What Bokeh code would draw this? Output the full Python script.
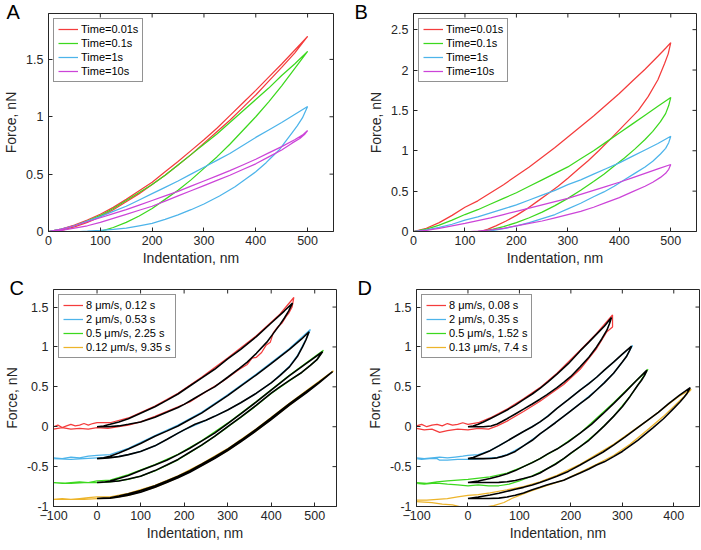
from bokeh.plotting import figure
from bokeh.models import Range1d, FixedTicker, Legend, LegendItem
from bokeh.layouts import column, row
from bokeh.embed import file_html
from bokeh.resources import INLINE

# ---------------- colours ----------------
RED = "#F43C3C"
GREEN = "#3CD81E"
BLUE = "#4DB4EA"
MAGENTA = "#CC44D8"
ORANGE = "#EDB42A"
AX = "#262626"

# ---------------- panel A ----------------
a_labels = ["Time=0.01s", "Time=0.1s", "Time=1s", "Time=10s"]
a_red_x = [0, 25, 50, 75, 100, 125, 150, 175, 200, 225, 250, 275, 300, 325, 350, 375, 400, 425, 450, 475, 500,
           475, 450, 425, 400, 375, 350, 325, 300, 275, 250, 225, 200, 175, 150, 125, 100, 75, 50, 25, 10]
a_red_y = [0, 0.02, 0.055, 0.10, 0.15, 0.21, 0.28, 0.355, 0.43, 0.52, 0.61, 0.705, 0.80, 0.90, 1.01, 1.12, 1.23, 1.345, 1.46, 1.58, 1.70,
           1.555, 1.43, 1.31, 1.19, 1.08, 0.97, 0.87, 0.77, 0.67, 0.58, 0.49, 0.41, 0.33, 0.26, 0.19, 0.13, 0.08, 0.04, 0.01, 0.0]
a_green_x = [0, 25, 50, 75, 100, 125, 150, 175, 200, 225, 250, 275, 300, 325, 350, 375, 400, 425, 450, 475, 500,
             475, 450, 425, 400, 375, 350, 325, 300, 275, 250, 225, 200, 175, 150, 125, 110, 100]
a_green_y = [0, 0.02, 0.05, 0.09, 0.14, 0.20, 0.27, 0.34, 0.41, 0.49, 0.58, 0.67, 0.76, 0.85, 0.95, 1.05, 1.15, 1.25, 1.36, 1.46, 1.57,
             1.42, 1.27, 1.13, 1.00, 0.88, 0.76, 0.65, 0.55, 0.45, 0.36, 0.28, 0.20, 0.135, 0.08, 0.035, 0.015, 0.0]
a_blue_x = [0, 25, 50, 75, 100, 125, 150, 175, 200, 225, 250, 275, 300, 325, 350, 375, 400, 425, 450, 475, 500,
            490, 480, 470, 455, 445, 430, 420, 400, 380, 360, 330, 300, 275, 250, 225, 200, 175, 150, 125, 100, 75, 60]
a_blue_y = [0, 0.02, 0.05, 0.09, 0.13, 0.175, 0.22, 0.275, 0.33, 0.385, 0.44, 0.50, 0.56, 0.62, 0.68, 0.75, 0.82, 0.885, 0.95, 1.02, 1.09,
            0.99, 0.92, 0.86, 0.77, 0.71, 0.645, 0.60, 0.52, 0.455, 0.39, 0.31, 0.24, 0.19, 0.145, 0.105, 0.07, 0.05, 0.03, 0.018, 0.01, 0.003, 0.0]
a_mag_x = [0, 25, 50, 75, 100, 125, 150, 175, 200, 225, 250, 275, 300, 325, 350, 375, 400, 425, 450, 475, 490, 500,
           495, 485, 470, 450, 425, 400, 375, 350, 325, 300, 275, 250, 225, 200, 175, 150, 125, 100, 75, 50, 25, 0]
a_mag_y = [0, 0.02, 0.05, 0.085, 0.12, 0.155, 0.19, 0.23, 0.27, 0.31, 0.35, 0.395, 0.44, 0.485, 0.53, 0.58, 0.63, 0.685, 0.74, 0.80, 0.84, 0.88,
           0.85, 0.81, 0.77, 0.71, 0.65, 0.59, 0.54, 0.49, 0.445, 0.40, 0.355, 0.31, 0.265, 0.22, 0.185, 0.15, 0.115, 0.08, 0.05, 0.03, 0.01, 0]

# ---------------- panel B ----------------
b_red_x = [0, 25, 50, 75, 100, 125, 150, 175, 200, 225, 250, 275, 300, 325, 350, 375, 400, 425, 450, 475, 490, 500,
           495, 488, 475, 456, 437, 411, 385, 360, 340, 320, 300, 281, 260, 240, 220, 200, 180, 160, 145, 130]
b_red_y = [0, 0.04, 0.11, 0.20, 0.30, 0.38, 0.48, 0.58, 0.69, 0.80, 0.92, 1.04, 1.17, 1.30, 1.43, 1.57, 1.71, 1.86, 2.01, 2.17, 2.27, 2.34,
           2.20, 2.08, 1.88, 1.67, 1.50, 1.33, 1.16, 1.00, 0.88, 0.77, 0.66, 0.56, 0.46, 0.37, 0.28, 0.20, 0.13, 0.07, 0.03, 0]
b_green_x = [0, 25, 50, 75, 100, 125, 150, 175, 200, 225, 250, 275, 300, 325, 350, 375, 400, 425, 450, 475, 500,
             496, 490, 480, 465, 450, 430, 410, 390, 370, 350, 325, 300, 275, 250, 225, 200, 175, 155, 135, 125]
b_green_y = [0, 0.03, 0.08, 0.14, 0.21, 0.27, 0.34, 0.41, 0.48, 0.56, 0.64, 0.72, 0.80, 0.90, 1.00, 1.11, 1.22, 1.33, 1.44, 1.55, 1.66,
             1.56, 1.46, 1.36, 1.24, 1.14, 1.02, 0.91, 0.81, 0.71, 0.62, 0.51, 0.41, 0.32, 0.24, 0.17, 0.11, 0.06, 0.03, 0.005, 0]
b_blue_x = [0, 25, 50, 75, 100, 125, 150, 175, 200, 225, 250, 275, 300, 325, 350, 375, 400, 425, 450, 475, 500,
            496, 490, 480, 465, 450, 430, 410, 390, 370, 350, 325, 300, 275, 250, 225, 200, 175, 155, 140]
b_blue_y = [0, 0.02, 0.05, 0.09, 0.14, 0.18, 0.23, 0.28, 0.33, 0.39, 0.45, 0.51, 0.58, 0.64, 0.71, 0.78, 0.85, 0.93, 1.01, 1.09, 1.18,
            1.10, 1.03, 0.96, 0.87, 0.80, 0.72, 0.64, 0.56, 0.49, 0.43, 0.35, 0.28, 0.21, 0.16, 0.11, 0.07, 0.035, 0.015, 0]
b_mag_x = [0, 25, 50, 75, 100, 125, 150, 175, 200, 225, 250, 275, 300, 325, 350, 375, 400, 425, 450, 475, 500,
           496, 490, 480, 465, 450, 425, 400, 375, 350, 325, 300, 275, 250, 225, 200, 175, 150, 125, 110]
b_mag_y = [0, 0.015, 0.04, 0.07, 0.10, 0.135, 0.17, 0.21, 0.25, 0.29, 0.33, 0.37, 0.41, 0.46, 0.51, 0.56, 0.61, 0.665, 0.72, 0.775, 0.83,
           0.77, 0.72, 0.67, 0.61, 0.56, 0.49, 0.42, 0.36, 0.30, 0.25, 0.21, 0.17, 0.13, 0.10, 0.07, 0.04, 0.02, 0.005, 0]

# ---------------- panel C ----------------
c_labels = ["8 \u03bcm/s, 0.12 s", "2 \u03bcm/s, 0.53 s", "0.5 \u03bcm/s, 2.25 s", "0.12 \u03bcm/s, 9.35 s"]
c_red_x = [-100, -90, -80, -70, -60, -50, -40, -30, -20, -10, 0, 30, 72, 133, 186, 240, 300, 366, 420, 452,
           448, 440, 434, 425, 415, 405, 398, 388, 378, 366, 356, 345, 327, 289, 250, 213, 186, 133, 100, 72, 50, 25, 0, -20, -40, -60, -80, -100]
c_red_y = [0.00, 0.02, -0.01, 0.01, 0.03, 0.01, 0.02, 0.04, 0.02, 0.04, 0.05, 0.05, 0.11, 0.26, 0.42, 0.62, 0.86, 1.14, 1.41, 1.62,
           1.50, 1.42, 1.38, 1.30, 1.25, 1.18, 1.06, 1.02, 0.93, 0.87, 0.86, 0.78, 0.72, 0.57, 0.44, 0.31, 0.25, 0.13, 0.06, 0.02, 0.0, -0.02, -0.01, -0.03, -0.02, -0.03, -0.01, -0.03]
c_red_fit_x = [0, 15, 30, 50, 72, 100, 133, 160, 186, 213, 240, 270, 300, 330, 366, 400, 430, 449,
               440, 430, 420, 405, 390, 366, 345, 327, 300, 270, 250, 225, 200, 186, 160, 133, 100, 72, 50, 25, 0]
c_red_fit_y = [0, 0.01, 0.03, 0.06, 0.10, 0.17, 0.25, 0.33, 0.41, 0.51, 0.61, 0.72, 0.85, 0.97, 1.13, 1.30, 1.45, 1.55,
               1.45, 1.36, 1.28, 1.17, 1.06, 0.92, 0.81, 0.73, 0.62, 0.50, 0.44, 0.36, 0.28, 0.24, 0.18, 0.12, 0.06, 0.03, 0.01, 0, 0]
c_blue_x = [-100, -80, -60, -40, -20, 0, 30, 72, 133, 186, 240, 300, 366, 442, 490,
            480, 460, 442, 400, 366, 330, 300, 250, 200, 160, 133, 100, 72, 40, 0, -30, -60, -100]
c_blue_y = [-0.39, -0.40, -0.38, -0.39, -0.37, -0.36, -0.35, -0.27, -0.11, 0.02, 0.18, 0.40, 0.66, 0.98, 1.22,
            1.10, 0.89, 0.76, 0.55, 0.42, 0.30, 0.21, 0.08, -0.04, -0.16, -0.24, -0.31, -0.35, -0.38, -0.39, -0.40, -0.41, -0.40]
c_blue_fit_x = [0, 15, 30, 50, 72, 100, 133, 160, 186, 213, 240, 270, 300, 330, 366, 400, 442, 470, 487,
                480, 472, 460, 442, 420, 400, 366, 330, 300, 270, 250, 225, 200, 186, 160, 133, 100, 72, 50, 26, 0]
c_blue_fit_y = [-0.40, -0.39, -0.37, -0.33, -0.28, -0.21, -0.12, -0.055, 0.01, 0.09, 0.17, 0.28, 0.39, 0.51, 0.65, 0.79, 0.97, 1.10, 1.19,
                1.09, 1.00, 0.88, 0.75, 0.64, 0.55, 0.42, 0.30, 0.21, 0.13, 0.08, 0.03, -0.04, -0.08, -0.16, -0.24, -0.31, -0.35, -0.375, -0.39, -0.40]
c_green_x = [-100, -80, -60, -40, -20, 0, 30, 72, 133, 186, 240, 300, 366, 442, 480, 520,
             505, 470, 442, 400, 366, 330, 300, 240, 186, 133, 100, 72, 30, 0, -30, -60, -100]
c_green_y = [-0.70, -0.71, -0.70, -0.69, -0.70, -0.68, -0.67, -0.60, -0.475, -0.345, -0.175, 0.045, 0.315, 0.645, 0.80, 0.96,
             0.84, 0.68, 0.575, 0.415, 0.265, 0.115, -0.005, -0.235, -0.415, -0.555, -0.62, -0.66, -0.69, -0.70, -0.70, -0.71, -0.70]
c_green_fit_x = [0, 15, 30, 50, 72, 100, 133, 160, 186, 213, 240, 270, 300, 330, 366, 400, 442, 480, 518,
                 505, 490, 470, 442, 420, 400, 366, 330, 300, 270, 240, 213, 186, 160, 133, 100, 72, 50, 30, 0]
c_green_fit_y = [-0.70, -0.695, -0.68, -0.65, -0.61, -0.55, -0.48, -0.42, -0.35, -0.27, -0.18, -0.08, 0.04, 0.16, 0.31, 0.46, 0.64, 0.79, 0.94,
                 0.84, 0.77, 0.68, 0.58, 0.50, 0.42, 0.27, 0.12, 0.0, -0.12, -0.23, -0.32, -0.41, -0.48, -0.55, -0.62, -0.655, -0.68, -0.69, -0.70]
c_orange_x = [-100, -80, -60, -40, -20, 0, 30, 72, 133, 186, 240, 300, 366, 442, 500, 543,
              500, 442, 366, 300, 240, 186, 133, 72, 30, 0, -30, -60, -100]
c_orange_y = [-0.91, -0.90, -0.91, -0.90, -0.89, -0.88, -0.88, -0.835, -0.735, -0.615, -0.465, -0.275, -0.025, 0.295, 0.53, 0.70,
              0.51, 0.27, -0.05, -0.30, -0.49, -0.64, -0.76, -0.86, -0.895, -0.90, -0.91, -0.91, -0.91]
c_orange_fit_x = [0, 15, 30, 50, 72, 100, 133, 160, 186, 213, 240, 270, 300, 330, 366, 400, 442, 480, 510, 541,
                  510, 480, 442, 400, 366, 330, 300, 270, 240, 213, 186, 160, 133, 100, 72, 50, 30, 0]
c_orange_fit_y = [-0.90, -0.895, -0.89, -0.87, -0.84, -0.80, -0.74, -0.68, -0.62, -0.55, -0.47, -0.38, -0.28, -0.17, -0.03, 0.11, 0.29, 0.44, 0.56, 0.69,
                  0.55, 0.42, 0.27, 0.09, -0.05, -0.19, -0.30, -0.40, -0.49, -0.57, -0.64, -0.70, -0.76, -0.82, -0.86, -0.88, -0.895, -0.90]

# ---------------- panel D ----------------
d_labels = ["8 \u03bcm/s, 0.08 s", "2 \u03bcm/s, 0.35 s", "0.5 \u03bcm/s, 1.52 s", "0.13 \u03bcm/s, 7.4 s"]
d_red_x = [-100, -90, -80, -70, -60, -50, -40, -30, -20, -10, 0, 20, 43, 76, 108, 140, 173, 218, 250, 281,
           281, 270, 250, 218, 186, 153, 140, 108, 76, 57, 40, 20, 0, -20, -40, -55, -70, -85, -100]
d_red_y = [0.01, 0.03, 0.0, 0.02, 0.03, 0.01, 0.04, 0.02, 0.03, 0.05, 0.03, 0.05, 0.11, 0.22, 0.35, 0.49, 0.67, 0.96, 1.17, 1.40,
           1.25, 1.19, 0.98, 0.72, 0.53, 0.38, 0.32, 0.19, 0.07, 0.01, -0.03, -0.02, -0.04, -0.03, -0.05, -0.07, -0.03, -0.04, -0.02]
d_red_fit_x = [0, 10, 20, 30, 43, 60, 76, 92, 108, 125, 140, 155, 173, 195, 218, 235, 250, 265, 279,
               275, 270, 260, 250, 235, 218, 200, 186, 173, 153, 140, 125, 108, 92, 76, 66, 57, 45, 30, 0]
d_red_fit_y = [0, 0.01, 0.03, 0.06, 0.10, 0.155, 0.21, 0.27, 0.34, 0.41, 0.48, 0.56, 0.66, 0.79, 0.95, 1.06, 1.16, 1.26, 1.37,
               1.29, 1.21, 1.10, 1.00, 0.87, 0.75, 0.63, 0.555, 0.49, 0.40, 0.345, 0.285, 0.22, 0.16, 0.10, 0.065, 0.035, 0.01, 0, 0]
d_blue_x = [-100, -85, -70, -55, -40, -25, -10, 0, 20, 43, 76, 108, 140, 173, 218, 250, 283, 320,
            308, 283, 250, 218, 186, 153, 140, 108, 76, 57, 30, 0, -20, -40, -55, -60, -75, -90, -100]
d_blue_y = [-0.39, -0.40, -0.39, -0.38, -0.39, -0.38, -0.37, -0.36, -0.35, -0.30, -0.18, -0.06, 0.06, 0.23, 0.46, 0.62, 0.81, 1.02,
            0.88, 0.67, 0.46, 0.29, 0.13, -0.03, -0.09, -0.24, -0.35, -0.385, -0.40, -0.41, -0.41, -0.42, -0.42, -0.40, -0.40, -0.41, -0.40]
d_blue_fit_x = [0, 10, 20, 30, 43, 60, 76, 92, 108, 125, 140, 155, 173, 195, 218, 235, 250, 265, 283, 300, 318,
                313, 308, 300, 283, 265, 250, 235, 218, 200, 186, 170, 153, 140, 125, 108, 92, 76, 66, 57, 45, 30, 0]
d_blue_fit_y = [-0.40, -0.385, -0.36, -0.335, -0.30, -0.24, -0.18, -0.12, -0.06, 0.0, 0.06, 0.13, 0.23, 0.34, 0.46, 0.54, 0.62, 0.71, 0.81, 0.91, 1.01,
                0.94, 0.88, 0.81, 0.67, 0.55, 0.46, 0.37, 0.29, 0.20, 0.13, 0.05, -0.03, -0.09, -0.17, -0.24, -0.31, -0.355, -0.375, -0.39, -0.398, -0.40, -0.40]
d_green_x = [-100, -80, -60, -40, -20, 0, 43, 76, 108, 140, 173, 218, 283, 350,
             330, 315, 283, 250, 218, 186, 153, 120, 100, 80, 60, 40, 20, 0, -20, -40, -55, -70, -85, -100]
d_green_y = [-0.70, -0.71, -0.69, -0.68, -0.67, -0.66, -0.63, -0.58, -0.50, -0.40, -0.28, -0.08, 0.30, 0.72,
             0.52, 0.38, 0.13, -0.08, -0.25, -0.40, -0.53, -0.63, -0.68, -0.72, -0.74, -0.74, -0.73, -0.74, -0.73, -0.72, -0.71, -0.71, -0.72, -0.71]
d_green_fit_x = [0, 20, 43, 60, 76, 92, 108, 125, 140, 155, 173, 195, 218, 240, 262, 283, 305, 326, 348,
                 343, 337, 330, 315, 300, 283, 265, 250, 235, 218, 200, 186, 170, 153, 140, 125, 108, 92, 76, 60, 40, 0]
d_green_fit_y = [-0.70, -0.68, -0.65, -0.62, -0.59, -0.55, -0.50, -0.45, -0.40, -0.34, -0.28, -0.19, -0.08, 0.03, 0.16, 0.29, 0.43, 0.57, 0.71,
                 0.64, 0.58, 0.52, 0.38, 0.25, 0.13, 0.01, -0.08, -0.17, -0.25, -0.33, -0.40, -0.47, -0.53, -0.58, -0.62, -0.65, -0.675, -0.69, -0.697, -0.70, -0.70]
d_orange_x = [-100, -80, -60, -40, -20, 0, 20, 43, 76, 108, 140, 173, 218, 283, 347, 412, 434,
              430, 412, 380, 347, 315, 283, 250, 218, 186, 153, 120, 100, 85, 70, 50, 30, 10, -10, -30, -50, -70, -100]
d_orange_y = [-0.92, -0.92, -0.91, -0.90, -0.88, -0.86, -0.85, -0.83, -0.79, -0.75, -0.69, -0.61, -0.47, -0.22, 0.07, 0.39, 0.47,
              0.44, 0.33, 0.13, -0.05, -0.22, -0.36, -0.47, -0.57, -0.67, -0.74, -0.81, -0.86, -0.90, -0.95, -0.99, -1.01, -1.02, -1.01, -0.98, -0.97, -0.95, -0.94]
d_orange_fit_x = [0, 20, 43, 60, 76, 92, 108, 125, 140, 155, 173, 195, 218, 240, 262, 283, 305, 326, 347, 370, 390, 412, 432,
                  426, 420, 412, 400, 380, 360, 347, 330, 315, 300, 283, 265, 250, 235, 218, 200, 186, 170, 153, 140, 125, 108, 92, 76, 60, 40, 20, 0]
d_orange_fit_y = [-0.90, -0.88, -0.855, -0.835, -0.81, -0.785, -0.76, -0.73, -0.70, -0.665, -0.62, -0.56, -0.48, -0.40, -0.32, -0.23, -0.13, -0.03, 0.07, 0.18, 0.29, 0.40, 0.49,
                  0.42, 0.37, 0.31, 0.23, 0.10, -0.01, -0.08, -0.17, -0.24, -0.31, -0.375, -0.44, -0.48, -0.53, -0.58, -0.63, -0.67, -0.70, -0.73, -0.76, -0.79, -0.83, -0.86, -0.88, -0.895, -0.90, -0.90, -0.90]

# ---------------- axes ----------------
ab_xticks = [0, 100, 200, 300, 400, 500]
c_xticks = [-100, 0, 100, 200, 300, 400, 500]
d_xticks = [-100, 0, 100, 200, 300, 400]
a_yticks = [0, 0.5, 1, 1.5]
a_ytick_labels = ["0", "0.5", "1", "1.5"]
b_yticks = [0, 0.5, 1, 1.5, 2, 2.5]
b_ytick_labels = ["0", "0.5", "1", "1.5", "2", "2.5"]
cd_yticks = [-1, -0.5, 0, 0.5, 1, 1.5]
cd_ytick_labels = ["-1", "-0.5", "0", "0.5", "1", "1.5"]

FONT = "Liberation Sans"
LW = 1.25
FIT_LW = 1.6


def style_axis(ax, ticks, labels=None):
    ax.ticker = FixedTicker(ticks=ticks)
    ax.major_tick_in = 4
    ax.major_tick_out = 0
    ax.minor_tick_line_color = None
    ax.axis_line_color = AX
    ax.major_tick_line_color = AX
    ax.major_label_text_color = AX
    ax.major_label_text_font = FONT
    ax.major_label_text_font_size = "12.5px"
    ax.axis_label_text_font = FONT
    ax.axis_label_text_font_size = "14px"
    ax.axis_label_text_font_style = "normal"
    ax.axis_label_text_color = AX
    if labels is not None:
        ax.major_label_overrides = dict(zip(ticks, labels))


def make_fig(xr, yr, xticks, yticks, ylabels, bl, fw, br, bt, fh, bb, letter, letter_dx):
    p = figure(frame_width=fw, frame_height=fh, x_range=Range1d(*xr), y_range=Range1d(*yr),
               min_border_left=bl, min_border_right=br, min_border_top=bt, min_border_bottom=bb,
               output_backend="svg", toolbar_location=None)
    p.grid.visible = False
    p.outline_line_color = AX
    p.outline_line_alpha = 1
    p.background_fill_color = "white"
    p.border_fill_color = "white"
    style_axis(p.xaxis[0], xticks)
    style_axis(p.yaxis[0], yticks, ylabels)
    p.xaxis[0].axis_label = "Indentation, nm"
    p.yaxis[0].axis_label = "Force, nN"
    p.xaxis[0].major_label_standoff = 4
    p.xaxis[0].axis_label_standoff = 2
    p.yaxis[0].major_label_standoff = 5
    p.yaxis[0].axis_label_standoff = 4
    # inward ticks on the top and right edges of the box
    dy = 4 * (yr[1] - yr[0]) / fh
    dx = 4 * (xr[1] - xr[0]) / fw
    p.segment(x0=xticks, x1=xticks, y0=[yr[1]] * len(xticks), y1=[yr[1] - dy] * len(xticks),
              line_color=AX, line_width=1)
    p.segment(x0=[xr[1]] * len(yticks), x1=[xr[1] - dx] * len(yticks), y0=yticks, y1=yticks,
              line_color=AX, line_width=1)
    # panel letter as a left aligned title reaching into the top-left corner
    p.title.text = letter
    p.title.text_font = FONT
    p.title.text_font_size = "20px"
    p.title.text_font_style = "normal"
    p.title.text_color = "black"
    p.title.align = "left"
    p.title.vertical_align = "bottom"
    p.title.offset = letter_dx - bl
    p.title.standoff = -19
    return p


def add_legend(p, renderers, labels):
    items = [LegendItem(label=l, renderers=[r]) for l, r in zip(labels, renderers)]
    leg = Legend(items=items, location="top_left")
    leg.label_text_font = FONT
    leg.label_text_font_size = "11px"
    leg.label_text_color = "black"
    leg.label_height = 12
    leg.glyph_height = 12
    leg.glyph_width = 20
    leg.label_standoff = 3
    leg.spacing = 2
    leg.padding = 4
    leg.margin = 5
    leg.border_line_color = AX
    leg.border_line_width = 1
    leg.background_fill_alpha = 1
    p.add_layout(leg)


# Panel A
pA = make_fig((0, 550), (0, 1.9), ab_xticks, a_yticks, a_ytick_labels, 43, 285, 8, 13, 218, 45, "A", 1)
rA = [pA.line(xs, ys, color=c, line_width=LW)
      for xs, ys, c in [(a_red_x, a_red_y, RED), (a_green_x, a_green_y, GREEN),
                        (a_blue_x, a_blue_y, BLUE), (a_mag_x, a_mag_y, MAGENTA)]]
add_legend(pA, rA, a_labels)

# Panel B
pB = make_fig((0, 550), (0, 2.7), ab_xticks, b_yticks, b_ytick_labels, 72, 283, 2, 13, 218, 45, "B", 13)
rB = [pB.line(xs, ys, color=c, line_width=LW)
      for xs, ys, c in [(b_red_x, b_red_y, RED), (b_green_x, b_green_y, GREEN),
                        (b_blue_x, b_blue_y, BLUE), (b_mag_x, b_mag_y, MAGENTA)]]
add_legend(pB, rB, a_labels)

# Panel C
pC = make_fig((-100, 550), (-1, 1.72), c_xticks, cd_yticks, cd_ytick_labels, 45, 283, 8, 13, 217, 36, "C", 1)
rC = [pC.line(xs, ys, color=c, line_width=LW)
      for xs, ys, c in [(c_red_x, c_red_y, RED), (c_blue_x, c_blue_y, BLUE),
                        (c_green_x, c_green_y, GREEN), (c_orange_x, c_orange_y, ORANGE)]]
for fx, fy in [(c_red_fit_x, c_red_fit_y), (c_blue_fit_x, c_blue_fit_y),
               (c_green_fit_x, c_green_fit_y), (c_orange_fit_x, c_orange_fit_y)]:
    pC.line(fx, fy, color="black", line_width=FIT_LW)
add_legend(pC, rC, c_labels)

# Panel D
pD = make_fig((-100, 450), (-1, 1.72), d_xticks, cd_yticks, cd_ytick_labels, 72, 283, 2, 13, 217, 36, "D", 13)
rD = [pD.line(xs, ys, color=c, line_width=LW)
      for xs, ys, c in [(d_red_x, d_red_y, RED), (d_blue_x, d_blue_y, BLUE),
                        (d_green_x, d_green_y, GREEN), (d_orange_x, d_orange_y, ORANGE)]]
for fx, fy in [(d_red_fit_x, d_red_fit_y), (d_blue_fit_x, d_blue_fit_y),
               (d_green_fit_x, d_green_fit_y), (d_orange_fit_x, d_orange_fit_y)]:
    pD.line(fx, fy, color="black", line_width=FIT_LW)
add_legend(pD, rD, d_labels)

layout = column(row(pA, pB, spacing=0), row(pC, pD, spacing=0), spacing=0)
open("out.html", "w").write(file_html(layout, INLINE))
